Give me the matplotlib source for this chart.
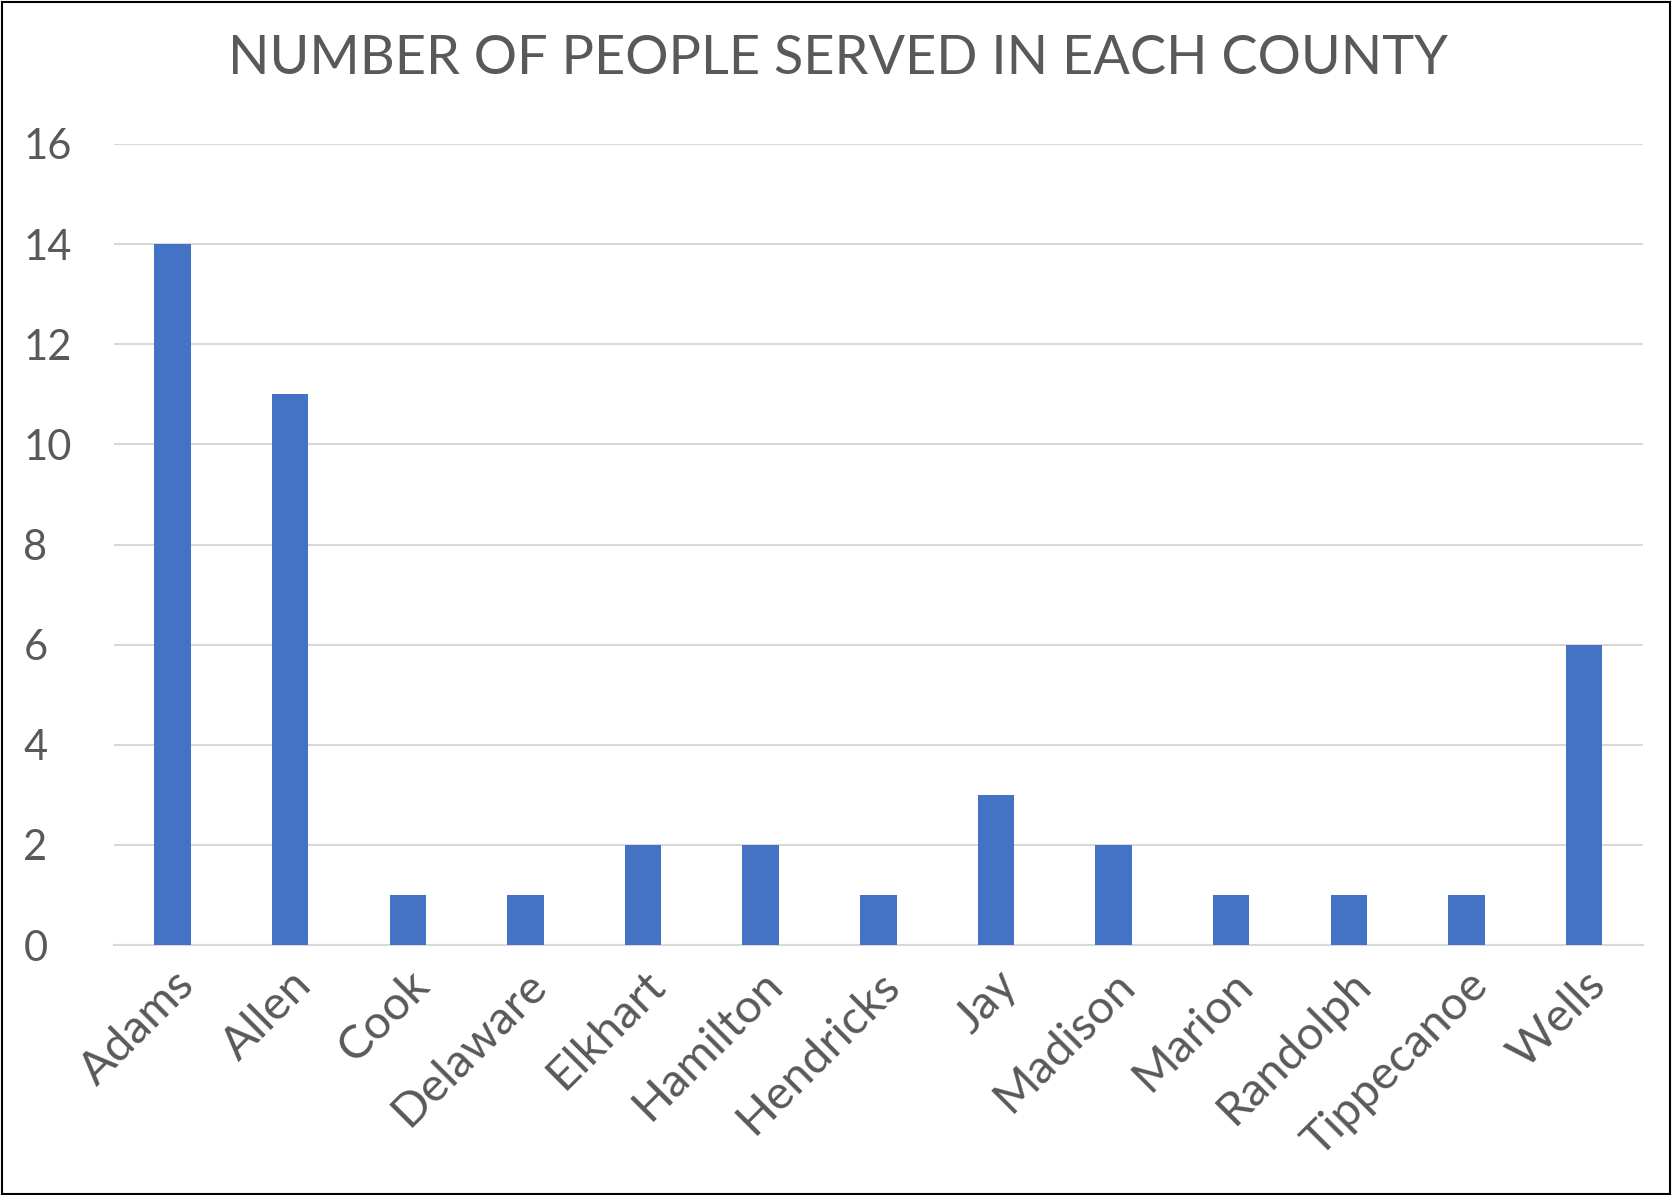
import matplotlib
matplotlib.use("Agg")
import matplotlib.pyplot as plt
from matplotlib.patches import Rectangle

counties = ["Adams", "Allen", "Cook", "Delaware", "Elkhart", "Hamilton", "Hendricks",
            "Jay", "Madison", "Marion", "Randolph", "Tippecanoe", "Wells"]
people = [14, 11, 1, 1, 2, 2, 1, 3, 2, 1, 1, 1, 6]
yticks = [0, 2, 4, 6, 8, 10, 12, 14, 16]
title = "NUMBER OF PEOPLE SERVED IN EACH COUNTY"

plt.rcParams['font.family'] = ['Lato', 'DejaVu Sans']
text_color = "#595959"
bar_color = "#4472C4"
grid_color = "#D9D9D9"

fig = plt.figure(figsize=(16.73, 11.95), dpi=100)
ax = fig.add_axes([0.068, 0.2092, 0.914, 0.6703])

x = list(range(len(counties)))
ax.bar(x, people, width=0.31, color=bar_color, zorder=3)

ax.set_xlim(-0.5, len(counties) - 0.5)
ax.set_ylim(0, 16)
ax.set_yticks(yticks)
ax.set_yticklabels([str(t) for t in yticks], fontsize=30, color=text_color)
ax.yaxis.grid(True, color=grid_color, linewidth=1.5, zorder=0)
ax.set_axisbelow(True)

ax.set_xticks(x)
ax.set_xticklabels(counties, rotation=45, ha="right", rotation_mode="anchor",
                   fontsize=34, color=text_color)
ax.tick_params(axis="both", length=0)
ax.tick_params(axis="x", pad=13)
ax.tick_params(axis="y", pad=65)
for lab in ax.get_yticklabels():
    lab.set_horizontalalignment("left")

for s in ["top", "right", "left"]:
    ax.spines[s].set_visible(False)
ax.spines["bottom"].set_color(grid_color)
ax.spines["bottom"].set_linewidth(1.5)

fig.text(0.501, 0.951, title, ha="center", va="center", fontsize=39, color=text_color)

fig.patches.append(Rectangle((0.001, 0.001), 0.997, 0.997, transform=fig.transFigure,
                             fill=False, edgecolor="black", linewidth=1.5))

fig.savefig("out.png", dpi=100)
